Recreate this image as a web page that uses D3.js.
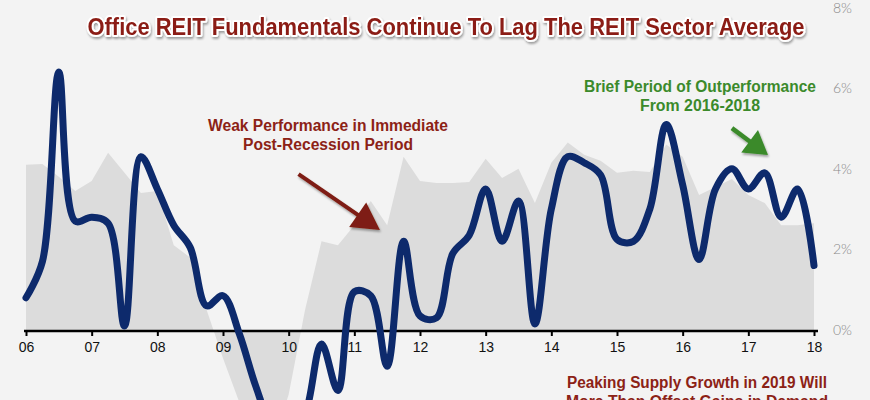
<!DOCTYPE html>
<html>
<head>
<meta charset="utf-8">
<script src="https://cdn.jsdelivr.net/npm/d3@7"></script>
<style>
  html, body { margin: 0; padding: 0; background: #f3f3f3; }
  svg { display: block; }
</style>
</head>
<body>
<div id="chart"></div>
<script>
// quarterly observations, 2006 Q1 .. 2018 Q1
const quarters = [
  2006.00, 2006.25, 2006.50, 2006.75, 2007.00, 2007.25, 2007.50, 2007.75,
  2008.00, 2008.25, 2008.50, 2008.75, 2009.00, 2009.25, 2009.50, 2009.75,
  2010.00, 2010.25, 2010.50, 2010.75, 2011.00, 2011.25, 2011.50, 2011.75,
  2012.00, 2012.25, 2012.50, 2012.75, 2013.00, 2013.25, 2013.50, 2013.75,
  2014.00, 2014.25, 2014.50, 2014.75, 2015.00, 2015.25, 2015.50, 2015.75,
  2016.00, 2016.25, 2016.50, 2016.75, 2017.00, 2017.25, 2017.50, 2017.75,
  2018.00
];

// office REIT (navy line), %
const officeValues = [
  0.8, 1.7, 6.4, 2.7, 2.8, 2.65, 0.1, 4.3,
  3.5, 2.6, 2.05, 0.6, 0.85, -0.1, -1.4, -2.4,
  -2.7, -2.1, -0.35, -1.5, 0.95, 0.85, -0.9, 2.2,
  0.35, 0.3, 1.9, 2.35, 3.5, 2.2, 3.2, 0.15,
  3.0, 4.3, 4.15, 3.85, 2.25, 2.2, 3.0, 5.1,
  3.6, 1.75, 3.5, 4.0, 3.5, 3.9, 2.8, 3.5,
  1.6
];

// REIT sector average (grey area), %
const sectorValues = [
  4.1, 4.12, 3.8, 3.45, 3.7, 4.4, 3.9, 3.4,
  3.45, 2.1, 1.8, 0.5, -0.7, -1.8, -2.7, -2.9,
  -1.6, 0.5, 2.2, 2.1, 2.6, 3.2, 2.6, 4.3,
  3.7, 3.65, 3.65, 3.67, 4.25, 3.77, 4.0, 3.15,
  4.15, 4.65, 4.35, 4.2, 3.9, 3.95, 3.92, 4.6,
  4.3, 3.35, 3.55, 3.75, 3.35, 3.15, 2.6, 2.6,
  2.65
];

const yearTicks = [2006, 2007, 2008, 2009, 2010, 2011, 2012, 2013, 2014, 2015, 2016, 2017, 2018];
const pctTicks = [0, 2, 4, 6, 8];

const title = "Office REIT Fundamentals Continue To Lag The REIT Sector Average";
const weakLines = ["Weak Performance in Immediate", "Post-Recession Period"];
const briefLines = ["Brief Period of Outperformance", "From 2016-2018"];
const supplyLines = ["Peaking Supply Growth in 2019 Will", "More Than Offset Gains in Demand"];

const W = 870, H = 400;
const red = "#8c2216", green = "#3b8a2b", navy = "#0d2a6c";

const svg = d3.select("#chart")
  .append("svg")
    .attr("width", W)
    .attr("height", H)
    .style("background-color", "#f3f3f3");

const defs = svg.append("defs");
defs.append("filter")
    .attr("id", "shadow")
    .attr("x", "-10%").attr("y", "-30%")
    .attr("width", "120%").attr("height", "160%")
  .append("feDropShadow")
    .attr("dx", 1).attr("dy", 2)
    .attr("stdDeviation", 1.2)
    .attr("flood-color", "#000")
    .attr("flood-opacity", 0.35);

const x = d3.scaleLinear().domain([2006, 2018]).range([26, 814]);
const y = d3.scaleLinear().domain([0, 8]).range([330, 7.6]);

const rows = quarters.map((q, i) => ({ q, office: officeValues[i], sector: sectorValues[i] }));

// grey sector area
const area = d3.area()
    .x(d => x(d.q))
    .y0(y(0))
    .y1(d => y(d.sector));

svg.append("path")
    .datum(rows)
    .attr("fill", "#dcdcdc")
    .attr("d", area);

// x axis
const xAxis = svg.append("g")
    .attr("transform", `translate(0,${y(0) + 1})`)
    .call(d3.axisBottom(x)
        .tickValues(yearTicks)
        .tickFormat(d => String(d).slice(2))
        .tickSize(5)
        .tickSizeOuter(0)
        .tickPadding(6));

xAxis.select(".domain")
    .attr("stroke", "#000")
    .attr("stroke-width", 2.5)
    .attr("d", `M${x(2006) - 2},0H${x(2018) + 4}`);
xAxis.selectAll(".tick line")
    .attr("stroke", "#000")
    .attr("stroke-width", 2);
xAxis.selectAll(".tick text")
    .attr("fill", "#111")
    .style("font-family", "'Liberation Sans', Arial, sans-serif")
    .style("font-size", "14px");

// y labels on the right
const yAxis = svg.append("g")
    .attr("transform", `translate(828,0)`)
    .call(d3.axisRight(y)
        .tickValues(pctTicks)
        .tickFormat(d => d + "%")
        .tickSize(0)
        .tickPadding(5));

yAxis.select(".domain").remove();
yAxis.selectAll(".tick text")
    .attr("fill", "#8a8a8a")
    .style("font-family", "Lato, 'Open Sans', sans-serif")
    .style("font-weight", 300)
    .style("font-size", "14px");

// navy office line
const line = d3.line()
    .x(d => x(d.q))
    .y(d => y(d.office))
    .curve(d3.curveCatmullRom.alpha(0.5));

svg.append("path")
    .datum(rows)
    .attr("fill", "none")
    .attr("stroke", navy)
    .attr("stroke-width", 7)
    .attr("stroke-linecap", "round")
    .attr("stroke-linejoin", "round")
    .attr("d", line);

// title
svg.append("text")
    .attr("x", 446)
    .attr("y", 35)
    .attr("text-anchor", "middle")
    .attr("fill", "#8b1c12")
    .attr("stroke", "#fff")
    .attr("stroke-width", 4)
    .attr("stroke-linejoin", "round")
    .attr("paint-order", "stroke")
    .attr("filter", "url(#shadow)")
    .style("font-family", "'Liberation Sans', Arial, sans-serif")
    .style("font-weight", "bold")
    .style("font-size", "23px")
    .attr("textLength", 717)
    .attr("lengthAdjust", "spacingAndGlyphs")
    .text(title);

function block(lines, cx, top, color, widths) {
  const t = svg.append("text")
      .attr("text-anchor", "middle")
      .attr("fill", color)
      .style("font-family", "'Liberation Sans', Arial, sans-serif")
      .style("font-weight", "bold")
      .style("font-size", "16px");
  lines.forEach((s, i) => {
    t.append("tspan")
        .attr("x", cx)
        .attr("y", top + i * 19)
        .attr("textLength", widths[i])
        .attr("lengthAdjust", "spacingAndGlyphs")
        .text(s);
  });
}

block(weakLines, 328, 131, red, [240, 170]);
block(briefLines, 700, 92, green, [232, 120]);
block(supplyLines, 697, 388, red, [260, 262]);

// arrows, anchored in data space
function arrow(from, to, color, headLen, headW, shaftW) {
  const [x0, y0] = [x(from[0]), y(from[1])];
  const [x1, y1] = [x(to[0]), y(to[1])];
  const dx = x1 - x0, dy = y1 - y0;
  const len = Math.hypot(dx, dy);
  const ux = dx / len, uy = dy / len;
  const bx = x1 - ux * headLen, by = y1 - uy * headLen;
  const g = svg.append("g").attr("filter", "url(#shadow)");
  g.append("line")
      .attr("x1", x0).attr("y1", y0)
      .attr("x2", bx + ux * 2).attr("y2", by + uy * 2)
      .attr("stroke", color)
      .attr("stroke-width", shaftW);
  g.append("path")
      .attr("fill", color)
      .attr("d", `M${x1},${y1}L${bx - uy * headW / 2},${by + ux * headW / 2}L${bx + uy * headW / 2},${by - ux * headW / 2}Z`);
}

arrow([2010.15, 3.87], [2011.39, 2.48], "#7e1f12", 27, 30, 4);
arrow([2016.75, 5.01], [2017.3, 4.34], "#3a8a2a", 23, 28, 4.5);
</script>
</body>
</html>
